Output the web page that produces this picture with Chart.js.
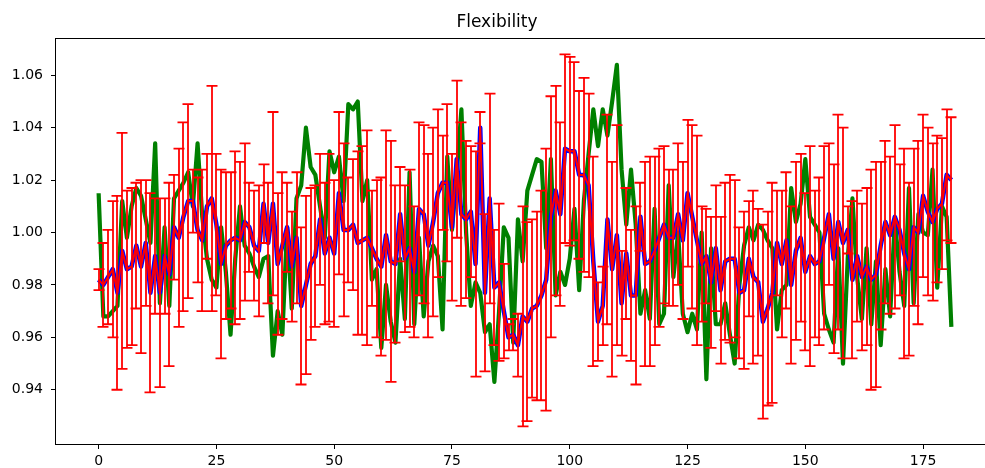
<!DOCTYPE html>
<html>
<head>
<meta charset="utf-8">
<title>Flexibility</title>
<script src="https://cdn.jsdelivr.net/npm/chart.js@4.4.1/dist/chart.umd.min.js"></script>
<style>
  html, body { margin: 0; padding: 0; background: #fff; overflow: hidden; }
  #wrap { width: 1000px; height: 468px; }
</style>
</head>
<body>
<div id="wrap"><canvas id="graphique-flex" width="1000" height="468"></canvas></div>
<script>
// pas de temps 0..181
const steps = Array.from({ length: 182 }, (_, i) => i);

// moyenne (courbe bleue / rouge)
const moyenne = [
  0.982, 0.980, 0.983, 0.986, 0.977, 0.993, 0.986, 0.987, 0.995, 0.987,
  0.996, 0.977, 0.991, 0.977, 0.991, 0.984, 1.002, 0.998, 1.006, 1.012,
  1.012, 1.001, 0.997, 1.010, 1.013, 1.003, 0.988, 0.995, 0.997, 0.998,
  0.997, 1.004, 1.002, 0.995, 0.993, 1.011, 0.996, 1.011, 0.988, 0.995,
  1.002, 0.987, 0.998, 0.972, 0.980, 0.988, 0.991, 1.005, 0.992, 0.998,
  0.992, 1.015, 1.001, 1.001, 1.003, 0.996, 0.997, 0.998, 0.994, 0.990,
  0.987, 0.999, 0.989, 0.988, 1.007, 0.990, 0.994, 0.985, 1.009, 1.007,
  0.995, 1.004, 1.015, 1.019, 1.019, 1.002, 1.028, 1.007, 1.005, 1.008,
  0.988, 1.040, 0.977, 1.013, 0.979, 0.981, 0.970, 0.960, 0.961, 0.957,
  0.968, 0.966, 0.971, 0.972, 0.976, 0.982, 1.006, 1.016, 1.007, 1.032,
  1.031, 1.031, 1.022, 1.022, 1.018, 0.989, 0.966, 0.972, 1.005, 0.986,
  0.999, 0.973, 0.992, 0.976, 0.976, 1.006, 0.988, 0.989, 0.993, 0.998,
  1.003, 0.998, 0.998, 1.007, 0.997, 1.015, 1.006, 0.997, 0.988, 0.991,
  0.981, 0.994, 0.978, 0.989, 0.990, 0.990, 0.977, 0.978, 0.990, 0.983,
  0.981, 0.966, 0.971, 0.977, 0.996, 0.988, 0.997, 0.980, 0.993, 0.998,
  0.985, 0.991, 0.988, 0.989, 0.998, 1.007, 0.990, 1.004, 0.996, 1.001,
  0.982, 0.991, 0.983, 0.987, 0.982, 0.984, 0.995, 1.004, 0.999, 1.006,
  1.001, 0.992, 0.986, 1.002, 1.000, 1.014, 1.008, 1.004, 1.009, 1.011,
  1.022, 1.020
];

// ecart (barres d'erreur rouges)
const ecart = [
  0.004, 0.016, 0.018, 0.026, 0.037, 0.045, 0.030, 0.030, 0.024, 0.033,
  0.024, 0.038, 0.022, 0.036, 0.022, 0.035, 0.020, 0.034, 0.036, 0.037,
  0.012, 0.020, 0.027, 0.020, 0.043, 0.027, 0.036, 0.028, 0.026, 0.033,
  0.030, 0.030, 0.017, 0.021, 0.025, 0.015, 0.023, 0.035, 0.027, 0.028,
  0.017, 0.021, 0.025, 0.030, 0.034, 0.029, 0.027, 0.025, 0.027, 0.032,
  0.028, 0.031, 0.033, 0.020, 0.025, 0.035, 0.036, 0.041, 0.022, 0.030,
  0.034, 0.040, 0.046, 0.030, 0.018, 0.028, 0.030, 0.025, 0.033, 0.034,
  0.035, 0.036, 0.032, 0.018, 0.030, 0.028, 0.030, 0.035, 0.030, 0.025,
  0.043, 0.006, 0.030, 0.040, 0.022, 0.030, 0.018, 0.005, 0.006, 0.012,
  0.042, 0.038, 0.034, 0.036, 0.040, 0.050, 0.046, 0.040, 0.035, 0.036,
  0.036, 0.034, 0.032, 0.037, 0.035, 0.040, 0.015, 0.015, 0.040, 0.041,
  0.042, 0.020, 0.025, 0.025, 0.034, 0.013, 0.039, 0.040, 0.036, 0.034,
  0.030, 0.026, 0.026, 0.027, 0.030, 0.028, 0.035, 0.040, 0.022, 0.018,
  0.025, 0.024, 0.028, 0.030, 0.032, 0.030, 0.025, 0.030, 0.022, 0.033,
  0.028, 0.037, 0.037, 0.042, 0.020, 0.028, 0.026, 0.030, 0.034, 0.032,
  0.030, 0.042, 0.028, 0.032, 0.035, 0.027, 0.036, 0.041, 0.044, 0.009,
  0.030, 0.025, 0.028, 0.030, 0.042, 0.043, 0.032, 0.031, 0.030, 0.035,
  0.025, 0.040, 0.033, 0.030, 0.035, 0.031, 0.032, 0.030, 0.028, 0.025,
  0.025, 0.024
];

// serie verte
const serieVerte = [
  1.015, 0.968, 0.968, 0.970, 0.972, 1.012, 0.998, 1.010, 1.017, 1.014,
  1.005, 0.996, 1.034, 0.973, 1.002, 0.972, 1.013, 1.016, 1.019, 1.023,
  1.010, 1.034, 1.006, 0.990, 0.982, 0.979, 1.002, 0.985, 0.961, 0.990,
  1.010, 0.995, 0.992, 0.987, 0.983, 0.990, 0.991, 0.953, 0.970, 0.961,
  1.002, 0.971, 1.013, 1.018, 1.040, 1.025, 1.022, 1.010, 0.998, 1.031,
  1.023, 1.029, 1.012, 1.049, 1.047, 1.050, 1.012, 1.020, 0.982, 0.986,
  0.956, 0.980, 0.966, 0.958, 0.990, 0.967, 1.023, 0.965, 0.998, 0.968,
  0.989, 0.995, 0.991, 0.963, 1.029, 1.001, 1.022, 1.047, 1.000, 0.972,
  0.981, 0.977, 0.962, 0.965, 0.943, 0.970, 1.002, 0.998, 0.958, 1.005,
  0.989, 1.016, 1.022, 1.028, 1.027, 0.994, 1.028, 0.976, 0.985, 0.980,
  0.990, 1.009, 0.978, 1.012, 1.030, 1.047, 1.033, 1.047, 1.037, 1.050,
  1.064, 1.024, 1.003, 1.024, 1.003, 0.969, 0.978, 0.967, 1.009, 0.965,
  0.969, 1.018, 0.983, 1.000, 0.969, 0.962, 0.969, 0.963, 1.000, 0.944,
  0.994, 0.965, 0.965, 0.973, 0.961, 0.950, 0.980, 0.995, 1.002, 0.997,
  1.003, 1.001, 0.997, 0.994, 0.963, 0.978, 0.980, 1.017, 1.004, 1.011,
  1.028, 1.006, 1.003, 1.000, 0.969, 0.963, 0.958, 0.994, 0.950, 0.990,
  1.013, 0.983, 0.967, 0.994, 0.965, 0.989, 0.957, 0.986, 0.968, 1.005,
  0.985, 0.972, 1.017, 0.973, 1.007, 1.000, 0.999, 1.024, 0.979, 1.010,
  1.006, 0.964
];

// graduations des axes
const xTicks = [0, 25, 50, 75, 100, 125, 150, 175];
const yTicks = [0.94, 0.96, 0.98, 1.0, 1.02, 1.04, 1.06];

const police = "'DejaVu Sans', sans-serif";

// barres d'erreur dessinees juste apres la courbe bleue
const barresErreur = {
  id: "barresErreur",
  afterDatasetDraw(chart, args) {
    if (args.index !== 1) return;
    const { ctx, chartArea, scales } = chart;
    ctx.save();
    ctx.beginPath();
    ctx.rect(chartArea.left, chartArea.top, chartArea.right - chartArea.left, chartArea.bottom - chartArea.top);
    ctx.clip();
    ctx.strokeStyle = "#ff0000";
    ctx.lineWidth = 1.8;
    ctx.beginPath();
    for (let i = 0; i < steps.length; i++) {
      const px = Math.round(scales.x.getPixelForValue(steps[i]));
      const haut = scales.y.getPixelForValue(moyenne[i] + ecart[i]);
      const bas = scales.y.getPixelForValue(moyenne[i] - ecart[i]);
      ctx.moveTo(px, haut);
      ctx.lineTo(px, bas);
      ctx.moveTo(px - 5.5, haut);
      ctx.lineTo(px + 5.5, haut);
      ctx.moveTo(px - 5.5, bas);
      ctx.lineTo(px + 5.5, bas);
    }
    ctx.stroke();
    ctx.restore();
  },
};

// cadre autour de la zone du graphique
const cadre = {
  id: "cadre",
  afterDraw(chart) {
    const { ctx, chartArea } = chart;
    ctx.save();
    ctx.strokeStyle = "#000";
    ctx.lineWidth = 1;
    ctx.strokeRect(
      Math.round(chartArea.left) - 0.5,
      Math.round(chartArea.top) - 0.5,
      Math.round(chartArea.right - chartArea.left) + 1,
      Math.round(chartArea.bottom - chartArea.top) + 1
    );
    ctx.restore();
  },
};

const data = {
  datasets: [
    {
      label: "moyenne",
      data: steps.map((x, i) => ({ x: x, y: moyenne[i] })),
      borderColor: "#ff0000",
      borderWidth: 2,
      pointRadius: 0,
      tension: 0,
      borderJoinStyle: "round",
    },
    {
      label: "moyenne (fond)",
      data: steps.map((x, i) => ({ x: x, y: moyenne[i] })),
      borderColor: "#0000ff",
      borderWidth: 4.5,
      pointRadius: 0,
      tension: 0,
      borderJoinStyle: "round",
    },
    {
      label: "serie verte",
      data: steps.map((x, i) => ({ x: x, y: serieVerte[i] })),
      borderColor: "#008000",
      borderWidth: 4.2,
      pointRadius: 0,
      tension: 0,
      borderJoinStyle: "round",
    },
  ],
};

const config = {
  type: "line",
  data: data,
  options: {
    responsive: false,
    animation: false,
    layout: { padding: { left: 0, right: 6, top: 0, bottom: 0 } },
    plugins: {
      legend: { display: false },
      tooltip: { enabled: false },
      title: {
        display: true,
        text: "Flexibility",
        color: "#000",
        font: { family: police, size: 17, weight: "normal", lineHeight: 1.2 },
        padding: { top: 12, bottom: 7 },
      },
    },
    scales: {
      x: {
        type: "linear",
        min: -9.05,
        max: 190.05,
        afterBuildTicks: (scale) => {
          scale.ticks = xTicks.map((v) => ({ value: v }));
        },
        afterFit: (scale) => {
          scale.height = 24;
        },
        grid: { drawOnChartArea: false, drawTicks: true, tickLength: 5, color: "#000", lineWidth: 1 },
        border: { display: false },
        ticks: {
          color: "#000",
          font: { family: police, size: 14 },
          padding: 4,
          maxRotation: 0,
          callback: (v) => String(v),
        },
      },
      y: {
        type: "linear",
        min: 0.9193,
        max: 1.0737,
        afterBuildTicks: (scale) => {
          scale.ticks = yTicks.map((v) => ({ value: v }));
        },
        afterFit: (scale) => {
          scale.width = 56;
        },
        grid: { drawOnChartArea: false, drawTicks: true, tickLength: 5, color: "#000", lineWidth: 1 },
        border: { display: false },
        ticks: {
          color: "#000",
          font: { family: police, size: 14 },
          padding: 8,
          callback: (v) => Number(v).toFixed(2),
        },
      },
    },
  },
  plugins: [barresErreur, cadre],
};

new Chart(document.querySelector("#graphique-flex"), config);
</script>
</body>
</html>
